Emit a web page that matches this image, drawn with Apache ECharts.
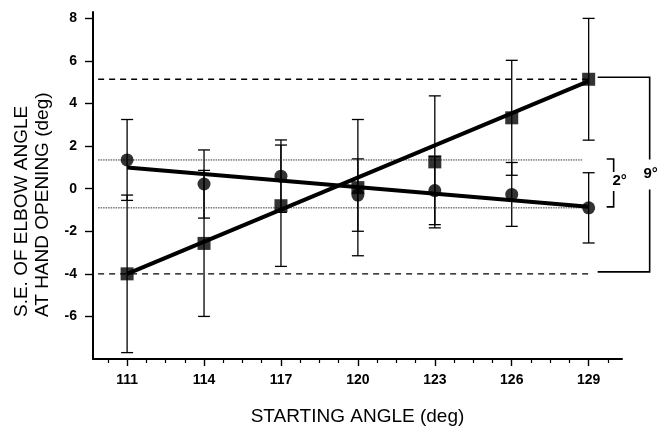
<!DOCTYPE html>
<html><head><meta charset="utf-8">
<script src="https://cdn.jsdelivr.net/npm/echarts@6/dist/echarts.min.js"></script>
<style>html,body{margin:0;padding:0;background:#fff}#c{width:657px;height:431px}</style>
</head><body><div id="c"></div>
<script>
// ---- data ----
const startAngles = [111, 114, 117, 120, 123, 126, 129];
const circleMean  = [1.35, 0.22, 0.59, -0.30, -0.09, -0.27, -0.90];
const circleErr   = [1.90, 1.60, 1.70, 1.70, 1.60, 1.50, 1.65];
const squareMean  = [-4.00, -2.57, -0.80, 0.05, 1.26, 3.33, 5.14];
const squareErr   = [3.70, 3.43, 2.85, 3.20, 3.10, 2.70, 2.86];
const fitX        = [111, 129];
const circleFit   = [1.00, -0.85];
const squareFit   = [-4.00, 5.05];
const xTickLabels = [111, 114, 117, 120, 123, 126, 129];
const xMinorTicks = [110.25, 111.75, 112.5, 113.25, 114.75, 115.5, 116.25, 117.75, 118.5, 119.25,
                     120.75, 121.5, 122.25, 123.75, 124.5, 125.25, 126.75, 127.5, 128.25, 129.75];
const yTickLabels = [-6, -4, -2, 0, 2, 4, 6, 8];
const rangeLabels = ['2°', '9°'];
const refLineStartX = 109.87;

const INK = '#000';
const FONT = 'Liberation Sans, Arial, Helvetica, sans-serif';

function pairs(xs, ys) { return xs.map((x, i) => [x, ys[i]]); }
const circleBars = startAngles.map((x, i) => [x, circleMean[i] - circleErr[i], circleMean[i] + circleErr[i]]);
const squareBars = startAngles.map((x, i) => [x, squareMean[i] - squareErr[i], squareMean[i] + squareErr[i]]);
const last = startAngles.length - 1;
const lastX = startAngles[last];

function errRender(params, api) {
  const x = api.value(0), lo = api.value(1), hi = api.value(2);
  const pHi = api.coord([x, hi]), pLo = api.coord([x, lo]);
  const hw = 6, st = { stroke: INK, lineWidth: 1.3 };
  return { type: 'group', children: [
    { type: 'line', shape: { x1: pHi[0], y1: pHi[1], x2: pLo[0], y2: pLo[1] }, style: st },
    { type: 'line', shape: { x1: pHi[0] - hw, y1: pHi[1], x2: pHi[0] + hw, y2: pHi[1] }, style: st },
    { type: 'line', shape: { x1: pLo[0] - hw, y1: pLo[1], x2: pLo[0] + hw, y2: pLo[1] }, style: st }
  ]};
}

// brackets: [low level, high level, label index, kind]
const bracketData = [
  [circleMean[last], circleMean[0], 0, 0],
  [squareMean[0], squareMean[last], 1, 1]
];
function bracketRender(params, api) {
  const lo = api.value(0), hi = api.value(1), li = api.value(2), kind = api.value(3);
  const pHi = api.coord([lastX, hi]), pLo = api.coord([lastX, lo]);
  const st = { stroke: INK, lineWidth: 1.6, fill: null };
  const midY = (pHi[1] + pLo[1]) / 2 - 3;
  if (kind === 0) {
    const vx = pHi[0] + 25, tx = pHi[0] + 18;
    return { type: 'group', children: [
      { type: 'polyline', shape: { points: [[tx, pHi[1] - 1], [vx, pHi[1] - 1], [vx, midY - 9]] }, style: st },
      { type: 'polyline', shape: { points: [[tx, pLo[1] - 1], [vx, pLo[1] - 1], [vx, midY + 10]] }, style: st },
      { type: 'text', x: vx + 6, y: midY, style: { text: rangeLabels[li], fill: INK, font: 'bold 15px ' + FONT, textAlign: 'center', textVerticalAlign: 'middle' } }
    ]};
  } else {
    const x0 = pHi[0] + 9, vx = pHi[0] + 61;
    return { type: 'group', children: [
      { type: 'polyline', shape: { points: [[x0, pHi[1] - 2], [vx, pHi[1] - 2], [vx, midY - 14]] }, style: st },
      { type: 'polyline', shape: { points: [[x0, pLo[1] - 2], [vx, pLo[1] - 2], [vx, midY + 16]] }, style: st },
      { type: 'text', x: vx + 1, y: midY, style: { text: rangeLabels[li], fill: INK, font: 'bold 15px ' + FONT, textAlign: 'center', textVerticalAlign: 'middle' } }
    ]};
  }
}

const chart = echarts.init(document.getElementById('c'), null, { renderer: 'canvas' });
chart.setOption({
  animation: false,
  backgroundColor: '#fff',
  grid: { left: 93, right: 35, top: 12, bottom: 59 },
  xAxis: [{
    type: 'value', min: 109.67, max: 130.3, position: 'bottom',
    name: 'STARTING ANGLE (deg)', nameLocation: 'middle', nameGap: 48,
    nameTextStyle: { color: INK, fontFamily: FONT, fontSize: 19 },
    axisLine: { onZero: false, lineStyle: { color: INK, width: 2 } },
    axisTick: { customValues: xTickLabels, length: 7, lineStyle: { color: INK, width: 1.4 } },
    axisLabel: { customValues: xTickLabels, color: INK, fontFamily: FONT, fontWeight: 'bold', fontSize: 14, margin: 14 },
    splitLine: { show: false }
  }, {
    type: 'value', min: 109.67, max: 130.3, position: 'bottom',
    axisLine: { show: false, onZero: false },
    axisTick: { customValues: xMinorTicks, length: 4, lineStyle: { color: INK, width: 1.2 } },
    axisLabel: { show: false }, splitLine: { show: false }
  }],
  yAxis: {
    type: 'value', min: -8, max: 8.3,
    axisLine: { show: true, onZero: false, lineStyle: { color: INK, width: 2 } },
    axisTick: { show: true, customValues: yTickLabels, length: 8, lineStyle: { color: INK, width: 1.4 } },
    axisLabel: { customValues: yTickLabels, color: INK, fontFamily: FONT, fontWeight: 'bold', fontSize: 14, margin: 16 },
    splitLine: { show: false }
  },
  graphic: [
    { type: 'text', x: 22, y: 317, rotation: Math.PI / 2,
      style: { text: 'S.E. OF ELBOW ANGLE', fill: INK, font: '19px ' + FONT, textAlign: 'left', textVerticalAlign: 'middle' } },
    { type: 'text', x: 43, y: 317, rotation: Math.PI / 2,
      style: { text: 'AT HAND OPENING (deg)', fill: INK, font: '19px ' + FONT, textAlign: 'left', textVerticalAlign: 'middle' } }
  ],
  series: [
    { type: 'line', data: [[refLineStartX, squareMean[last]], [lastX, squareMean[last]]], symbol: 'none',
      lineStyle: { color: INK, width: 1.3, type: [6, 5] }, silent: true },
    { type: 'line', data: [[refLineStartX, squareMean[0]], [lastX, squareMean[0]]], symbol: 'none',
      lineStyle: { color: INK, width: 1.3, type: [6, 5] }, silent: true },
    { type: 'line', data: [[refLineStartX, circleMean[0]], [lastX - 0.25, circleMean[0]]], symbol: 'none',
      lineStyle: { color: '#333', width: 1, type: [1.5, 1] }, silent: true },
    { type: 'line', data: [[refLineStartX, circleMean[last]], [lastX, circleMean[last]]], symbol: 'none',
      lineStyle: { color: '#333', width: 1, type: [1.5, 1] }, silent: true },
    { type: 'custom', renderItem: errRender, data: circleBars, z: 3 },
    { type: 'custom', renderItem: errRender, data: squareBars, z: 3 },
    { type: 'line', data: pairs(fitX, circleFit), symbol: 'none', lineStyle: { color: INK, width: 4 }, z: 4 },
    { type: 'line', data: pairs(fitX, squareFit), symbol: 'none', lineStyle: { color: INK, width: 4 }, z: 4 },
    { type: 'scatter', data: pairs(startAngles, circleMean), symbol: 'circle', symbolSize: 13,
      itemStyle: { color: INK }, z: 5 },
    { type: 'scatter', data: pairs(startAngles, squareMean), symbol: 'rect', symbolSize: 13,
      itemStyle: { color: INK }, z: 5 },
    { type: 'custom', renderItem: bracketRender, data: bracketData, clip: false, z: 5 }
  ]
});
</script>
</body></html>
